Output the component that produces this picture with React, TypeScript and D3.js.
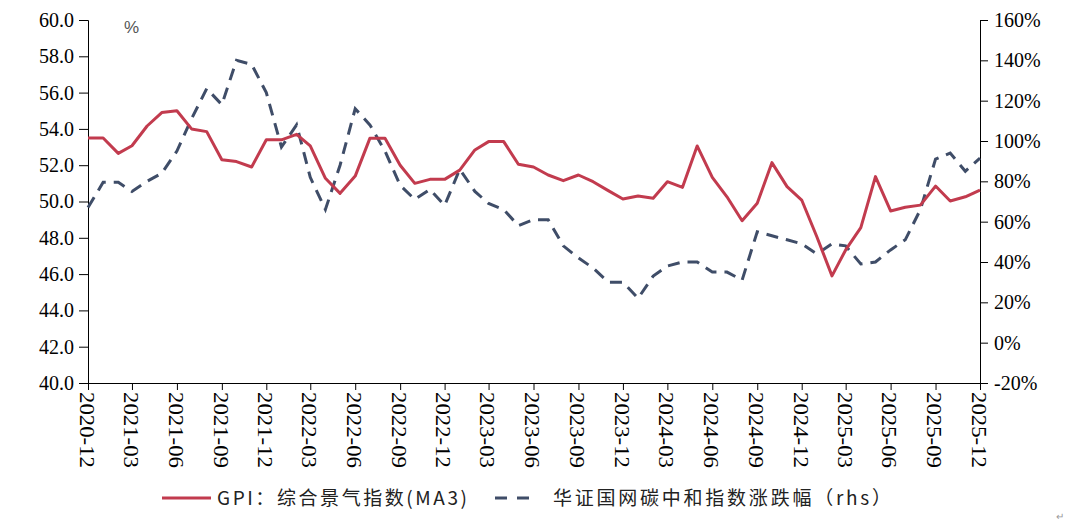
import * as d3 from "d3";
import { useEffect, useRef } from "react";

// monthly categories 2020-12 .. 2025-12
const months: Date[] = d3.timeMonth.range(new Date(2020, 11, 1), new Date(2026, 0, 1));

const gpi: number[] = [
    53.5, 53.5, 52.65, 53.07, 54.16, 54.9, 55.0, 54.0, 53.85, 52.3,
    52.2, 51.9, 53.4, 53.4, 53.7, 53.06, 51.28, 50.45, 51.4, 53.48,
    53.48, 52.0, 51.0, 51.22, 51.22, 51.73, 52.84, 53.3, 53.3, 52.05,
    51.9, 51.46, 51.15, 51.46, 51.09, 50.6, 50.14, 50.3, 50.18, 51.09,
    50.78, 53.06, 51.33, 50.26, 48.94, 49.9, 52.14, 50.82, 50.08, 48.06,
    45.9, 47.33, 48.56, 51.37, 49.48, 49.68, 49.8, 50.85, 50.03, 50.26, 50.63,
];

const carbon: number[] = [
    67, 79.5, 79.5, 75, 80, 84, 95, 111, 126, 118,
    140, 138, 124, 97, 108, 82, 66, 88, 116, 108,
    95, 78, 71, 76, 68, 86, 75, 69, 66, 58,
    61, 61, 48, 42, 37, 30, 30, 22, 33, 38,
    40, 40, 35, 35, 31, 55, 53, 51, 49, 44,
    49, 48, 39, 40, 46, 51, 66, 91, 94, 85, 91.5,
];

const leftTicks: number[] = [40, 42, 44, 46, 48, 50, 52, 54, 56, 58, 60];
const rightTicks: number[] = [-20, 0, 20, 40, 60, 80, 100, 120, 140, 160];

const seriesNames = ["GPI：综合景气指数(MA3)", "华证国网碳中和指数涨跌幅（rhs）"];

const RED = "#C23B4E";
const BLUE = "#3F4D68";

export default function App() {
    const ref = useRef<SVGSVGElement | null>(null);

    useEffect(() => {
        if (!ref.current) return;
        const svg = d3.select(ref.current);
        svg.selectAll("*").remove();

        const margin = { top: 20, right: 85, bottom: 148, left: 88 };
        const width = 1065;
        const height = 531;

        const x = d3.scaleTime()
            .domain([months[0], months[months.length - 1]])
            .range([margin.left, width - margin.right]);
        const yL = d3.scaleLinear().domain([40, 60]).range([height - margin.bottom, margin.top]);
        const yR = d3.scaleLinear().domain([-20, 160]).range([height - margin.bottom, margin.top]);

        const serif = "Liberation Serif, DejaVu Serif, serif";
        const cjk = "Noto Sans CJK SC, sans-serif";

        // left axis
        const gl = svg.append("g")
            .attr("transform", `translate(${margin.left},0)`)
            .call(d3.axisLeft(yL).tickValues(leftTicks).tickFormat(d3.format(".1f")).tickSize(9).tickPadding(5));
        gl.attr("font-family", serif).attr("font-size", 20);
        gl.selectAll("text").attr("fill", "#000");
        gl.selectAll("line, path").attr("stroke", "#000");

        // right axis
        const gr = svg.append("g")
            .attr("transform", `translate(${width - margin.right},0)`)
            .call(d3.axisRight(yR).tickValues(rightTicks).tickFormat((d) => `${d}%`).tickSize(8).tickPadding(6));
        gr.attr("font-family", serif).attr("font-size", 20);
        gr.selectAll("text").attr("fill", "#000");
        gr.selectAll("line, path").attr("stroke", "#000");

        // bottom axis
        const quarterTicks = months.filter((_, i) => i % 3 === 0);
        const gb = svg.append("g")
            .attr("transform", `translate(0,${height - margin.bottom})`)
            .call(d3.axisBottom(x).tickValues(quarterTicks).tickFormat((d) => d3.timeFormat("%Y-%m")(d as Date)).tickSize(7).tickSizeOuter(0));
        gb.attr("font-family", serif).attr("font-size", 20);
        gb.selectAll("line, path").attr("stroke", "#000");
        gb.selectAll("text")
            .attr("fill", "#000")
            .attr("text-anchor", "start")
            .attr("dy", "0.33em")
            .attr("transform", "rotate(90)")
            .attr("x", 9)
            .attr("y", 2)
            .attr("textLength", 76)
            .attr("lengthAdjust", "spacingAndGlyphs");

        // % unit
        svg.append("text")
            .attr("x", 124)
            .attr("y", 33)
            .attr("font-family", "Liberation Sans Narrow, Liberation Sans, sans-serif")
            .attr("font-size", 17)
            .attr("fill", "#555")
            .text("%");

        // lines
        const lineL = d3.line<number>()
            .x((_, i) => x(months[i]))
            .y((d) => yL(d));
        const lineR = d3.line<number>()
            .x((_, i) => x(months[i]))
            .y((d) => yR(d));

        svg.append("path")
            .datum(carbon)
            .attr("d", lineR)
            .attr("fill", "none")
            .attr("stroke", BLUE)
            .attr("stroke-width", 3)
            .attr("stroke-dasharray", "12 8");

        svg.append("path")
            .datum(gpi)
            .attr("d", lineL)
            .attr("fill", "none")
            .attr("stroke", RED)
            .attr("stroke-width", 3)
            .attr("stroke-linejoin", "round");

        // legend
        const lg = svg.append("g").attr("font-family", cjk).attr("font-size", 19);
        lg.append("line").attr("x1", 162).attr("x2", 211).attr("y1", 498).attr("y2", 498)
            .attr("stroke", RED).attr("stroke-width", 3);
        lg.append("text").attr("x", 217).attr("y", 505).attr("fill", "#222")
            .attr("textLength", 250).attr("lengthAdjust", "spacing")
            .text(seriesNames[0]);
        lg.append("line").attr("x1", 495).attr("x2", 535).attr("y1", 498).attr("y2", 498)
            .attr("stroke", BLUE).attr("stroke-width", 3).attr("stroke-dasharray", "12 10");
        lg.append("text").attr("x", 553).attr("y", 505).attr("fill", "#222")
            .attr("textLength", 338).attr("lengthAdjust", "spacing")
            .text(seriesNames[1]);

        svg.append("text").attr("x", 1056).attr("y", 520).attr("font-size", 10).attr("fill", "#999").text("↵");
    }, []);

    return (
        <svg
            ref={ref}
            width={1065}
            height={531}
            style={{ position: "absolute", left: 0, top: 0, background: "#fff" }}
        />
    );
}
